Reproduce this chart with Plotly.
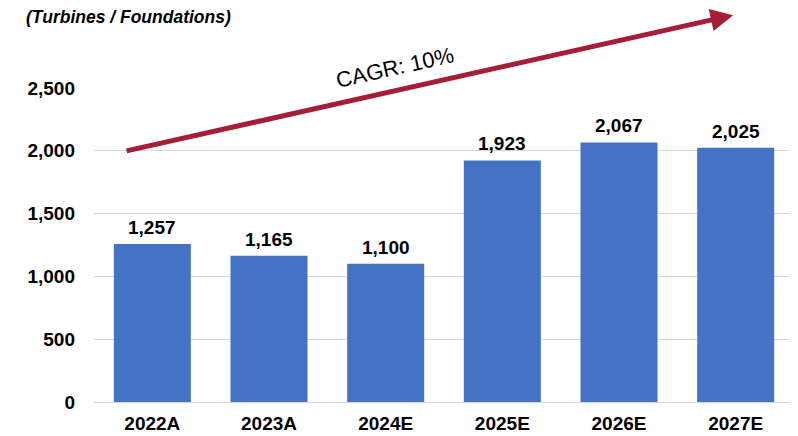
import plotly.graph_objects as go

categories = ["2022A", "2023A", "2024E", "2025E", "2026E", "2027E"]
values = [1257, 1165, 1100, 1923, 2067, 2025]
y_ticks = [0, 500, 1000, 1500, 2000, 2500]
unit_label = "(Turbines / Foundations)"
cagr_label = "CAGR: 10%"

BAR = "#4472C4"
ARROW = "#A51E36"
FONT = "Liberation Sans, Arial, sans-serif"

fig = go.Figure()
fig.add_trace(go.Bar(
    x=categories, y=values, marker_color=BAR, marker_line_width=0,
))

# value labels above each bar
for c, v in zip(categories, values):
    fig.add_annotation(
        x=c, y=v, xref="x", yref="y", text=f"<b>{v:,}</b>", showarrow=False,
        yanchor="bottom", yshift=4,
        font=dict(family=FONT, size=19, color="black"),
    )

# page body has an 8px margin, so the figure is sized to fit the window
fig.update_layout(
    width=790, height=428,
    margin=dict(l=86, r=4, t=80, b=34),
    plot_bgcolor="white", paper_bgcolor="white",
    bargap=0.34, showlegend=False,
    font=dict(family=FONT, color="black"),
    xaxis=dict(showline=False, ticks="", automargin=False,
               tickfont=dict(size=19, family=FONT, weight="bold"),
               ticklabelstandoff=8),
    yaxis=dict(range=[0, 2500], tickvals=y_ticks, tickformat=",", automargin=False,
               showgrid=True, gridcolor="#D9D9D9", gridwidth=1,
               zeroline=True, zerolinecolor="#D9D9D9", zerolinewidth=1,
               tickfont=dict(size=19, family=FONT, weight="bold"),
               ticklabelstandoff=18),
)

fig.add_annotation(
    xref="paper", yref="paper", x=-0.1, y=1.226, xanchor="left", yanchor="middle",
    text=f"<b><i>{unit_label}</i></b>", showarrow=False,
    font=dict(family=FONT, size=17.5, color="black"),
)

# CAGR arrow: tail at 2022 start level (y=2000), head above plot
fig.add_annotation(
    xref="paper", yref="paper", x=0.913, y=1.232,
    ax=-608, ay=136, axref="pixel", ayref="pixel",
    showarrow=True, arrowhead=2, arrowsize=0.9, arrowwidth=5, arrowcolor=ARROW,
    text="",
)
fig.add_annotation(
    xref="paper", yref="paper", x=0.43, y=1.065, xanchor="center", yanchor="middle",
    text=cagr_label, showarrow=False, textangle=-12.6,
    font=dict(family=FONT, size=22, color="black"),
)

fig.write_html("out.html")
